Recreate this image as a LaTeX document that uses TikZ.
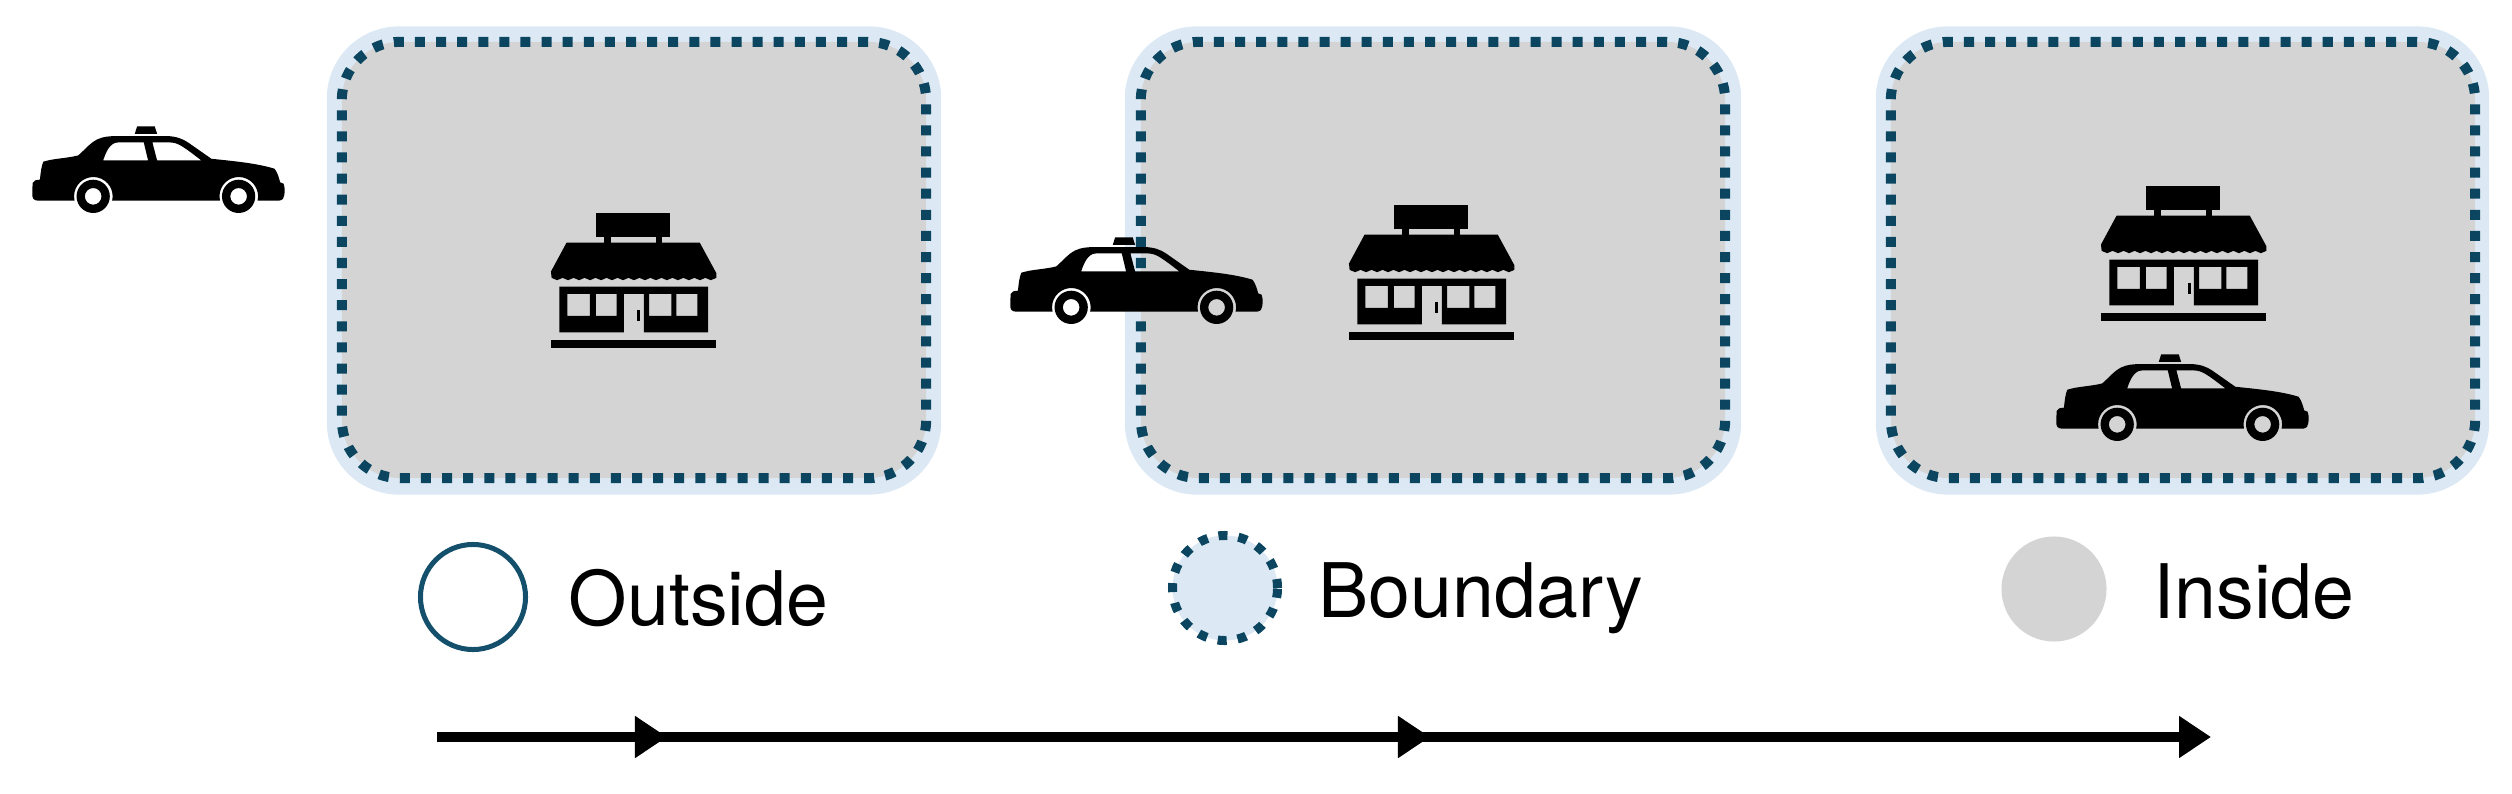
\documentclass[tikz,border=0pt]{standalone}
\usepackage{fontspec}
\setmainfont{TeX Gyre Heros}
\usetikzlibrary{arrows.meta}
\definecolor{bandblue}{HTML}{DCE9F5}
\definecolor{dotblue}{HTML}{0C4560}
\definecolor{ringblue}{HTML}{14506C}
\definecolor{boxgray}{HTML}{D4D4D4}
\tikzset{
  x=0.01cm,y=-0.01cm,
  bandbox/.style={rectangle,fill=bandblue,rounded corners=0.72cm,inner sep=0pt,outer sep=0pt},
  zonebox/.style={rectangle,fill=boxgray,draw=dotblue,line width=0.1cm,dash pattern=on 0.1cm off 0.1109cm,rounded corners=0.58cm,inner sep=0pt,outer sep=0pt,minimum width=5.84cm,minimum height=4.36cm},
  legendlabel/.style={anchor=base west,inner sep=0pt,font=\fontsize{21.4pt}{25pt}\selectfont},
  legendcirc/.style={circle,inner sep=0pt,minimum size=1.05cm},
  flow/.style={line width=0.1cm,black,-{Triangle[length=0.32cm,width=0.4cm]}},
  pics/taxicar/.style={code={
    \begin{scope}[x=0.003333cm,y=-0.003333cm]
    \fill[black,even odd rule]
      (98,550) .. controls (100,542) and (110,540) .. (120,540)
      .. controls (122,520) and (124,500) .. (130,486)
      .. controls (160,476) and (200,476) .. (235,467)
      .. controls (255,450) and (270,430) .. (292,419)
      .. controls (310,410) and (330,409) .. (350,409) -- (500,409)
      .. controls (530,409) and (550,418) .. (565,428)
      -- (635,477)
      .. controls (700,484) and (770,490) .. (825,507)
      .. controls (835,520) and (838,535) .. (842,548)
      -- (852,552) .. controls (857,565) and (857,585) .. (850,598)
      .. controls (846,603) and (840,603) .. (830,603) -- (774,603)
      arc[start angle=13,end angle=-193,radius=58] -- (337,603)
      arc[start angle=13,end angle=-193,radius=58] -- (115,603)
      .. controls (100,603) and (96,595) .. (97,580) -- cycle
      (310,482) .. controls (318,458) and (330,428) .. (355,428) -- (432,428) -- (445,482) -- cycle
      (472,482) -- (458,428) -- (510,428) .. controls (535,428) and (550,440) .. (605,482) -- cycle;
    \fill[black] (405,402) -- (412,380) -- (465,380) -- (472,402) -- cycle;
    \fill[black,even odd rule] (280,590) circle[radius=50] (280,590) circle[radius=25];
    \fill[black,even odd rule] (717,590) circle[radius=50] (717,590) circle[radius=25];
    \end{scope}
  }},
  pics/shopfront/.style={code={
    \begin{scope}[x=0.003333cm,y=-0.003333cm]
    \fill[black] (228,70) rectangle (452,140);
    \fill[black] (252,140) rectangle (272,165);
    \fill[black] (408,140) rectangle (428,165);
    \fill[black] (140,158) -- (540,158) -- (590,250) -- (590,264)
      \foreach \k in {1,...,15} { -- ++(-16.5,7) -- ++(-16.5,-7) } -- (93,245) -- cycle;
    \fill[black,even odd rule] (118,290) -- (565,290) -- (565,428) -- (372,428) -- (372,312) -- (312,312) -- (312,428) -- (118,428) -- cycle
      (142,312) rectangle (210,378)
      (228,312) rectangle (290,378)
      (388,312) rectangle (455,378)
      (470,312) rectangle (533,378);
    \fill[black] (353,362) rectangle (362,395);
    \fill[black] (93,452) rectangle (588,475);
    \end{scope}
  }}
}
\begin{document}
\begin{tikzpicture}
\useasboundingbox (0,0) rectangle (2512,794);
% zones
\node[bandbox,minimum width=6.14cm,minimum height=4.68cm] (bandA) at (634,260.5) {};
\node[zonebox] (zoneA) at (634,260) {};
\node[bandbox,minimum width=6.16cm,minimum height=4.68cm] (bandB) at (1433,260.5) {};
\node[zonebox] (zoneB) at (1433,260) {};
\node[bandbox,minimum width=6.13cm,minimum height=4.68cm] (bandC) at (2182.5,260.5) {};
\node[zonebox] (zoneC) at (2183,260) {};
% shops
\pic at (520,190) {shopfront};
\pic at (1318,182) {shopfront};
\pic at (2070,163) {shopfront};
% cars
\pic at (0,0) {taxicar};
\pic at (978,111) {taxicar};
\pic at (2024,228) {taxicar};
% legend
\node[legendcirc,draw=ringblue,line width=0.05cm] (legOut) at (473,597) {};
\node[legendlabel] (txtOut) at (568,625) {Outside};
\node[legendcirc,fill=bandblue,draw=dotblue,line width=0.09cm,dash pattern=on 0.09cm off 0.11cm] (legBound) at (1225,588) {};
\node[legendlabel] (txtBound) at (1318,617) {Boundary};
\node[legendcirc,fill=boxgray] (legIn) at (2054,589) {};
\node[legendlabel] (txtIn) at (2153,618) {Inside};
% arrow
\coordinate (a0) at (437,737);
\coordinate (a1) at (667,737);
\coordinate (b1) at (650,737);
\coordinate (a2) at (1430,737);
\coordinate (b2) at (1410,737);
\coordinate (a3) at (2211,737);
\draw[flow] (a0) -- (a1);
\draw[flow] (b1) -- (a2);
\draw[flow] (b2) -- (a3);
\end{tikzpicture}
\end{document}
